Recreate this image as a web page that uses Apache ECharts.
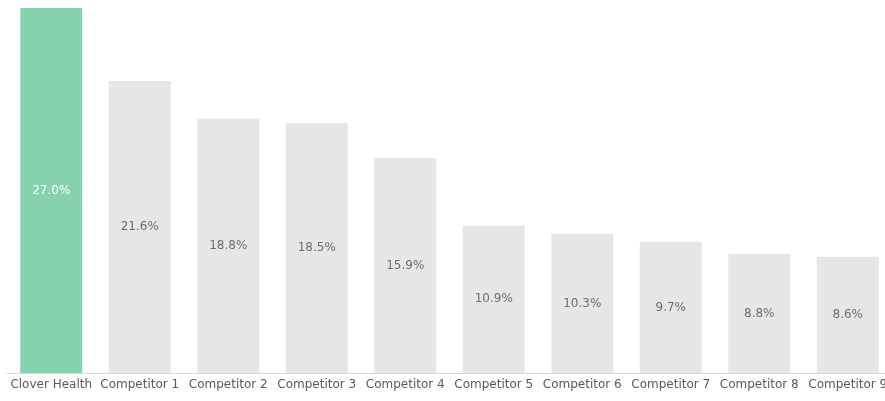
<!DOCTYPE html>
<html>
<head>
<meta charset="utf-8">
<script src="https://cdn.jsdelivr.net/npm/echarts@6/dist/echarts.min.js"></script>
<style>html,body{margin:0;padding:0;background:#fff;}#c{width:885px;height:401px;}</style>
</head>
<body>
<div id="c"></div>
<script>
const categories = ["Clover Health","Competitor 1","Competitor 2","Competitor 3","Competitor 4","Competitor 5","Competitor 6","Competitor 7","Competitor 8","Competitor 9"];
const values = [27.0, 21.6, 18.8, 18.5, 15.9, 10.9, 10.3, 9.7, 8.8, 8.6];
const highlightIndex = 0;

const chart = echarts.init(document.getElementById('c'), null, {renderer:'canvas'});
chart.setOption({
  animation: false,
  grid: {left: 7, right: -7, top: 8, bottom: 28, containLabel: false, outerBoundsMode: 'none'},
  xAxis: {
    type: 'category',
    data: categories,
    axisLine: {show: true, lineStyle: {color: '#D9D9D9', width: 1}},
    axisTick: {show: false},
    axisLabel: {color: '#595959', fontSize: 12, fontFamily: 'DejaVu Sans, sans-serif', margin: 6, interval: 0}
  },
  yAxis: {
    type: 'value', min: 0, max: 27, show: false,
    splitLine: {show: false}
  },
  series: [{
    type: 'bar',
    barWidth: '70%',
    data: values.map((v, i) => ({
      value: v,
      itemStyle: {color: i === highlightIndex ? '#86D1B0' : '#E6E6E6'},
      label: {color: i === highlightIndex ? '#FFFFFF' : '#6E6E6E'}
    })),
    label: {
      show: true, position: 'inside',
      fontSize: 12, fontFamily: 'DejaVu Sans, sans-serif',
      formatter: p => p.value.toFixed(1) + '%'
    }
  }]
});
</script>
</body>
</html>
